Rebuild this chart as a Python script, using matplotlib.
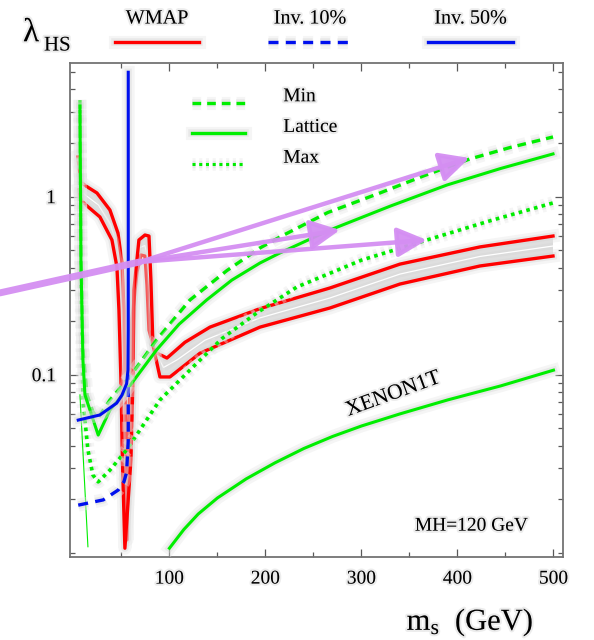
import numpy as np
import matplotlib
matplotlib.use('Agg')
import matplotlib.pyplot as plt
from matplotlib import patheffects as pe
from matplotlib.lines import Line2D

plt.rcParams['font.family'] = ['Liberation Serif', 'DejaVu Serif']
plt.rcParams['mathtext.fontset'] = 'custom'
plt.rcParams['mathtext.rm'] = 'Liberation Serif'

# WMAP relic density band: two boundary curves (m_s in GeV, lambda_HS)
wmap_a_ms = [4.7, 7.8, 13.0, 24.5, 38.0, 46.4, 50.5, 52.6, 54.2, 55.7, 57.8, 60.9, 66.2,
             70.3, 74.5, 76.6, 78.7, 84.9, 97.4, 116.1, 142.2, 194.3, 267.2, 340.1, 423.4, 499.5]
wmap_a_lam = [1.671, 1.209, 1.148, 1.049, 0.842, 0.625, 0.430, 0.231, 0.0556, 0.0118, 0.0556, 0.203, 0.378,
              0.470, 0.464, 0.319, 0.178, 0.134, 0.124, 0.152, 0.185, 0.235, 0.307, 0.418, 0.522, 0.601]
wmap_b_ms = [5.7, 7.8, 13.0, 27.6, 40.1, 45.3, 47.4, 49.5, 51.0, 53.6, 59.9, 62.0, 63.0,
             68.2, 74.5, 78.7, 80.7, 82.8, 90.1, 100.5, 131.8, 194.3, 267.2, 340.1, 423.4, 499.5]
wmap_b_lam = [1.090, 0.958, 0.898, 0.769, 0.571, 0.403, 0.231, 0.0934, 0.0332, 0.0106, 0.0332, 0.0934, 0.299,
              0.571, 0.609, 0.601, 0.340, 0.147, 0.0971, 0.0971, 0.132, 0.185, 0.237, 0.323, 0.408, 0.464]

# direct detection bounds for three nuclear matrix element choices
min_ms = [6.8, 7.8, 9.9, 14.1, 20.3, 25.8, 38.0, 58.9, 86.7, 121.4, 160.0, 194.3, 215.1, 265.0, 319.3, 365.0,
          413.0, 455.0, 499.5]
min_lam = [3.49, 0.502, 0.138, 0.0769, 0.0617, 0.0571, 0.0721, 0.0975, 0.157, 0.263, 0.385, 0.515, 0.594, 0.815,
           1.049, 1.31, 1.629, 1.89, 2.165]
lat_ms = [6.8, 7.8, 9.9, 12.0, 25.8, 38.0, 55.4, 86.7, 110.0, 138.8, 165.0, 194.3, 215.1, 267.2, 330.0, 389.1,
          445.0, 499.5]
lat_lam = [3.23, 0.441, 0.121, 0.077, 0.0458, 0.0633, 0.082, 0.138, 0.192, 0.263, 0.340, 0.424, 0.483, 0.650,
           0.885, 1.163, 1.44, 1.738]
max_ms = [6.8, 7.8, 9.9, 15.1, 20.3, 25.8, 38.0, 55.4, 90.1, 124.5, 155.0, 190.8, 232.8, 300.0, 368.2, 435.0,
          499.5]
max_lam = [3.07, 0.388, 0.0721, 0.0378, 0.0273, 0.0250, 0.0291, 0.0378, 0.0721, 0.1105, 0.160, 0.222, 0.311,
           0.440, 0.571, 0.735, 0.922]

# XENON1T projected reach
xen_ms = [100, 115, 130, 150, 180, 210, 240, 270, 300, 340, 390, 445, 500]
xen_lam = [0.0106, 0.0135, 0.0165, 0.0203, 0.0260, 0.0320, 0.0385, 0.0450, 0.0515, 0.0602, 0.0722, 0.0865, 0.106]
xen_low_ms = [6.8, 15.1]
xen_low_lam = [0.077, 0.0108]

# invisible Higgs width limits
inv50_ms = [5, 27.6, 45, 50.5, 55.4, 56.8, 57.1, 57.1]
inv50_lam = [0.0556, 0.0594, 0.0692, 0.0767, 0.089, 0.106, 0.178, 5.0]
inv10_ms = [5, 31, 46.7, 52.6, 55.4, 57.1, 57.1]
inv10_lam = [0.0185, 0.0198, 0.0225, 0.025, 0.0283, 0.0428, 0.10]

# hand-drawn pointers: tail, junction and three tips
arrow_tail = (-76.6, 0.288)
arrow_joint = (69.3, 0.43)
arrow_tips = [(412.5, 1.65), (277.6, 0.65), (368.2, 0.571)]

RED, GREEN, BLUE = '#ff0000', '#00ee00', '#0010ee'
LAV = '#d48ef2'


def glow(lw):
    return [pe.Stroke(linewidth=lw + 7, foreground='0.9', alpha=0.4),
            pe.Stroke(linewidth=lw + 3, foreground='0.82', alpha=0.35),
            pe.Normal()]


txt_fx = [pe.withStroke(linewidth=3, foreground='0.88', alpha=0.6)]

fig = plt.figure(figsize=(5.94, 6.4), dpi=100)
ax = fig.add_axes([0.1178, 0.1302, 0.8295, 0.7719])
ax.set_yscale('log')
ax.set_xlim(-3.6, 509.6)
ax.set_ylim(0.0095, 5.66)

# WMAP band with grey fill and white centre line
a_ms, a_lam = np.array(wmap_a_ms), np.array(wmap_a_lam)
b_ms, b_lam = np.array(wmap_b_ms), np.array(wmap_b_lam)
ax.fill(np.concatenate([a_ms, b_ms[::-1]]), np.concatenate([a_lam, b_lam[::-1]]),
        color='0.86', lw=0, zorder=1)
ax.plot((a_ms + b_ms) / 2, np.sqrt(a_lam * b_lam), color='white', lw=0.9, zorder=2)
for xs, ys in [(a_ms, a_lam), (b_ms, b_lam)]:
    ax.plot(xs, ys, color=RED, lw=2.4, zorder=3, path_effects=glow(2.4))

# direct detection curves
ax.plot(max_ms, max_lam, color=GREEN, lw=2.6, dashes=(1.0, 1.2), zorder=4, path_effects=glow(2.6))
ax.plot(min_ms, min_lam, color=GREEN, lw=2.4, dashes=(2.6, 1.8), zorder=4, path_effects=glow(2.4))
ax.plot(lat_ms, lat_lam, color=GREEN, lw=2.2, zorder=4, path_effects=glow(2.2))
ax.plot(xen_ms, xen_lam, color=GREEN, lw=2.2, zorder=4, path_effects=glow(2.2))
ax.plot(xen_low_ms, xen_low_lam, color=GREEN, lw=0.8, zorder=4)

# invisible width
ax.plot(inv10_ms, inv10_lam, color=BLUE, lw=2.4, dashes=(3.0, 2.2), zorder=5, path_effects=glow(2.4))
ax.plot(inv50_ms, inv50_lam, color=BLUE, lw=2.2, zorder=5, path_effects=glow(2.2))

# pointers
ax.plot([arrow_tail[0], arrow_joint[0]], [arrow_tail[1], arrow_joint[1]],
        color=LAV, lw=5, solid_capstyle='round', clip_on=False, zorder=10, alpha=0.95)
for tip in arrow_tips:
    ax.annotate('', xy=tip, xytext=arrow_joint, annotation_clip=False, zorder=10,
                arrowprops=dict(arrowstyle='-|>,head_length=0.9,head_width=0.45',
                                color=LAV, lw=3.2, shrinkA=0, shrinkB=0, mutation_scale=20,
                                alpha=0.95))

ax.text(333, 0.077, 'XENON1T', rotation=20, ha='center', va='center', fontsize=15.5,
        path_effects=txt_fx)
ax.text(415, 0.0141, 'MH=120 GeV', ha='center', va='center', fontsize=14,
        path_effects=txt_fx)

# inner legend
leg_rows = [('Min', dict(dashes=(2.6, 1.8), lw=2.4), 0.919, 0.931),
            ('Lattice', dict(lw=2.4), 0.857, 0.869),
            ('Max', dict(dashes=(1.0, 1.2), lw=2.2), 0.794, 0.8065)]
for label, style, ly, ty in leg_rows:
    ax.add_line(Line2D([0.247, 0.355], [ly, ly], transform=ax.transAxes, color=GREEN,
                       path_effects=glow(style['lw']), **style))
    ax.text(0.433, ty, label, transform=ax.transAxes, ha='left', va='center', fontsize=14,
            path_effects=txt_fx)

# ticks and frame
ax.set_xticks([100, 200, 300, 400, 500])
ax.set_xticks([50, 150, 250, 350, 450], minor=True)
ax.set_yticks([0.1, 1])
ax.set_yticklabels(['0.1', '1'])
ax.set_yticks([k * 10.0 ** e for e in (-2, -1, 0) for k in range(1, 10) if k * 10.0 ** e < 5.7
                and k * 10.0 ** e not in (0.1, 1.0)], minor=True)
ax.yaxis.set_minor_formatter(plt.NullFormatter())
ax.tick_params(which='both', direction='in', top=True, right=True, color='0.35',
               labelsize=14, width=0.9)
ax.tick_params(which='major', length=6, pad=10)
ax.tick_params(which='minor', length=3.5)
for s in ax.spines.values():
    s.set_color('0.45')
    s.set_linewidth(1.3)
for t in ax.get_xticklabels() + ax.get_yticklabels():
    t.set_path_effects(txt_fx)

# axis titles and top legend
fig.text(470 / 594, 1 - 622 / 640, r'$\mathregular{m_s}$  (GeV)', ha='center', va='center',
         fontsize=22, path_effects=txt_fx)
fig.text(23 / 594, 1 - 33 / 640, 'λ', ha='left', va='center', fontsize=24, path_effects=txt_fx)
fig.text(44 / 594, 1 - 46 / 640, 'HS', ha='left', va='center', fontsize=15, path_effects=txt_fx)

top_rows = [('WMAP', dict(color=RED, lw=2.4), 115, 199),
            ('Inv. 10%', dict(color=BLUE, lw=2.4, dashes=(3.0, 2.2)), 268, 352),
            ('Inv. 50%', dict(color=BLUE, lw=2.4), 428, 513)]
for label, style, x0, x1 in top_rows:
    fig.add_artist(Line2D([x0 / 594, x1 / 594], [1 - 41.5 / 640] * 2, transform=fig.transFigure,
                          path_effects=glow(2.4), **style))
    fig.text((x0 + x1) / 2 / 594, 1 - 19 / 640, label, ha='center', va='center', fontsize=14.5,
             path_effects=txt_fx)

fig.savefig('out.png', dpi=100)
